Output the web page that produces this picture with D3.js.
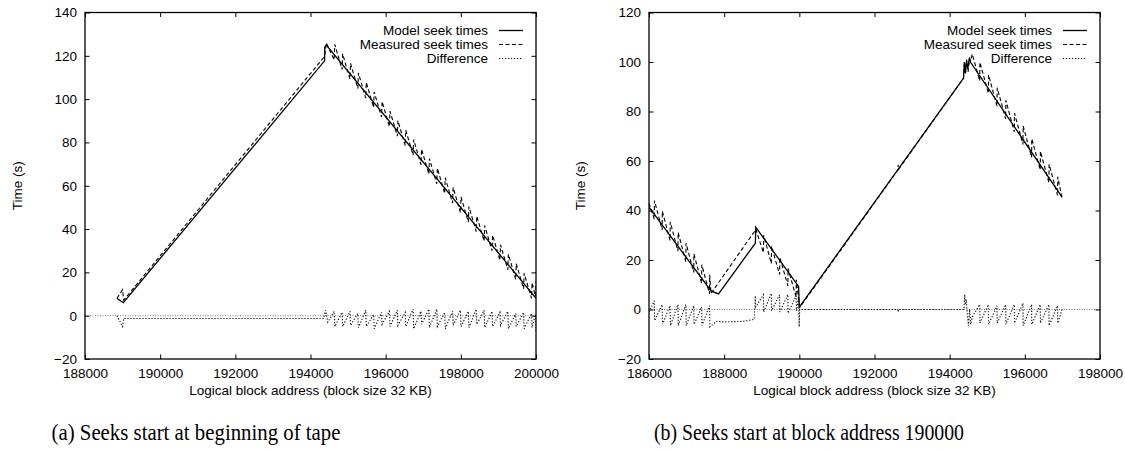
<!DOCTYPE html>
<html>
<head>
<meta charset="utf-8">
<script src="https://cdn.jsdelivr.net/npm/d3@7"></script>
<style>
  body { margin: 0; background: #fff; }
  svg { display: block; }
  .axis text { font-family: "Liberation Sans", Arial, sans-serif; font-size: 13.5px; fill: #000; }
  .axis line { stroke: #000; stroke-width: 1; }
  .label { font-family: "Liberation Sans", Arial, sans-serif; font-size: 13.5px; fill: #000; }
  .caption { font-family: "Liberation Serif", serif; font-size: 23px; fill: #000; }
</style>
</head>
<body>
<svg id="chart" width="1125" height="450"></svg>
<script>
// series names used in both legends
var seriesNames = ['Model seek times', 'Measured seek times', 'Difference'];
var xTitle = 'Logical block address (block size 32 KB)';
var yTitle = 'Time (s)';
var captions = ['(a) Seeks start at beginning of tape', '(b) Seeks start at block address 190000'];

// panel (a): seeks start at beginning of tape
var leftXTicks = [188000, 190000, 192000, 194000, 196000, 198000, 200000];
var leftYTicks = [-20, 0, 20, 40, 60, 80, 100, 120, 140];
var leftModel = [[188850, 8], [189020, 6], [194375, 117.7], [194380, 124], [194420, 125], [200000, 8]];
var leftMeasured = [
  [188850, 8], [189000, 12], [189030, 7.2], [194360, 119.4], [194385, 121], [194420, 126],
  [194630, 118.1], [194645, 125.3], [194840, 113.7], [194855, 120.9], [195050, 109.3], [195065, 116.5],
  [195260, 104.9], [195275, 112.1], [195470, 100.5], [195485, 107.7], [195680, 96.1], [195695, 103.3],
  [195890, 91.7], [195905, 98.9], [196100, 87.3], [196115, 94.5], [196310, 82.9], [196325, 90.1],
  [196520, 78.5], [196535, 85.7], [196730, 74.1], [196745, 81.3], [196940, 69.7], [196955, 76.9],
  [197150, 65.3], [197165, 72.5], [197360, 60.9], [197375, 68.1], [197570, 56.5], [197585, 63.7],
  [197780, 52.0], [197795, 59.2], [197990, 47.6], [198005, 54.8], [198200, 43.2], [198215, 50.4],
  [198410, 38.8], [198425, 46.0], [198620, 34.4], [198635, 41.6], [198830, 30.0], [198845, 37.2],
  [199040, 25.6], [199055, 32.8], [199250, 21.2], [199265, 28.4], [199460, 16.8], [199475, 24.0],
  [199670, 12.4], [199685, 19.6], [199880, 8.0], [199895, 15.2], [199985, 9.0], [200000, 16]
];
var leftDiff = [
  [188850, 0], [189000, -5], [189030, -1.3], [194350, -1.3], [194400, 2.5], [194460, -3],
  [194630, 2], [194650, -5], [194840, 1.5], [194855, -5], [195050, 2], [195065, -4.5],
  [195260, 1], [195275, -5.5], [195470, 2.5], [195485, -5], [195680, 0.5], [195695, -6],
  [195890, 1.5], [195905, -4], [196100, 2], [196115, -5], [196310, 2.5], [196325, -4.5],
  [196520, 1.5], [196535, -5], [196730, 3], [196745, -6], [196940, 2], [196955, -4],
  [197150, 3], [197165, -5.5], [197360, 3], [197375, -5], [197570, 1.5], [197585, -6],
  [197780, 2], [197795, -4.5], [197990, 2.5], [198005, -5], [198200, 2], [198215, -5.5],
  [198410, 3], [198425, -4], [198620, 2.5], [198635, -5.5], [198830, 2], [198845, -5],
  [199040, 1.5], [199055, -4.5], [199250, 2], [199265, -6], [199460, 1], [199475, -5],
  [199670, 1.5], [199685, -6], [199880, 1], [199895, -5.5], [199985, 0.5], [200000, -8]
];

// panel (b): seeks start at block address 190000
var rightXTicks = [186000, 188000, 190000, 192000, 194000, 196000, 198000];
var rightYTicks = [-20, 0, 20, 40, 60, 80, 100, 120];
var rightModel = [
  [186000, 41.4], [187650, 7.5], [187850, 6.3], [188830, 26.8], [188840, 33.3], [189980, 9.3],
  [190000, 1.0], [194370, 93.5], [194390, 100], [194420, 96], [194450, 100.5], [194480, 97],
  [194520, 101.5], [194560, 99.8], [196990, 45.4]
];
var rightMeasured = [
  [186000, 43], [186140, 36.5], [186145, 44.0], [186350, 32.2], [186355, 39.7], [186560, 27.9],
  [186565, 35.4], [186770, 23.6], [186775, 31.1], [186980, 19.3], [186985, 26.8], [187190, 15.0],
  [187195, 22.5], [187400, 10.6], [187405, 18.1], [187610, 6.3], [187615, 14.0], [187650, 6.5],
  [188800, 31.4], [188840, 32.5], [189045, 23.0], [189050, 30.0], [189255, 18.6], [189260, 25.6],
  [189475, 14.1], [189480, 21.1], [189695, 9.6], [189700, 16.6], [189915, 5.0], [189920, 12.0],
  [189985, 3.5], [190020, 1.0], [192620, 56.3], [192630, 58.5], [192640, 56.6], [194370, 93.5],
  [194390, 99], [194420, 95], [194450, 101], [194490, 96], [194530, 101.5], [194560, 100.5],
  [194600, 103.2], [194800, 92.4], [194805, 99.9], [195030, 87.3], [195035, 94.8], [195260, 82.1],
  [195265, 89.6], [195490, 77.0], [195495, 84.5], [195720, 71.8], [195725, 79.3], [195950, 66.7],
  [195955, 74.2], [196180, 61.5], [196185, 69.0], [196410, 56.4], [196415, 63.9], [196640, 51.2],
  [196645, 58.7], [196870, 46.1], [196875, 53.6], [196990, 45.0]
];
var rightDiff = [
  [186000, -1], [186140, 3.5], [186150, -4.5], [186350, 2], [186360, -6], [186560, 1.5],
  [186570, -6.5], [186770, 2], [186780, -6.5], [186980, 2], [186990, -6.5], [187190, 1.5],
  [187200, -6], [187400, 1], [187410, -6.5], [187610, 1.5], [187620, -7], [187800, -4.8],
  [188000, -5], [188500, -4.8], [188800, -4], [188830, 5.5], [188840, 1], [189045, 6],
  [189050, -1], [189255, 6.5], [189260, -0.5], [189475, 6], [189480, -1], [189695, 6],
  [189700, -1.5], [189915, 5.5], [189925, -0.5], [189980, 5], [189995, -7], [190010, 0],
  [192620, 0], [192630, -1], [192640, 0], [194380, 0], [194400, 6], [194420, 2], [194440, 4],
  [194470, -2], [194500, -6.5], [194530, 0], [194560, -6], [194600, -3], [194800, 2],
  [194805, -5.5], [195030, 2], [195035, -6], [195260, 1.5], [195265, -5.5], [195490, 2],
  [195495, -6], [195720, 2], [195725, -5.5], [195950, 2.5], [195955, -6.5], [196180, 2],
  [196185, -6], [196410, 2], [196415, -5.5], [196640, 2], [196645, -6.5], [196870, 1.5],
  [196875, -5.5], [196990, 0]
];

var svg = d3.select('#chart');

// line styles of the three curves (gnuplot style)
var styles = [
  { dash: null, width: 1.3 },
  { dash: '4,2.5', width: 1.1 },
  { dash: '1.2,1.8', width: 1.1 }
];

function drawPanel(p) {
  var x = d3.scaleLinear().domain(p.xDomain).range([p.left, p.right]);
  var y = d3.scaleLinear().domain(p.yDomain).range([p.bottom, p.top]);
  var tick = 4.5;

  //clip curves to the frame
  svg.append('clipPath').attr('id', p.id + '-clip')
    .append('rect')
    .attr('x', p.left).attr('y', p.top)
    .attr('width', p.right - p.left).attr('height', p.bottom - p.top);

  var plot = svg.append('g').attr('clip-path', 'url(#' + p.id + '-clip)');

  // zero axis
  plot.append('line')
    .attr('x1', p.left).attr('x2', p.right)
    .attr('y1', y(0)).attr('y2', y(0))
    .attr('stroke', '#777').attr('stroke-width', 1)
    .attr('stroke-dasharray', '1,1.5');

  var line = d3.line().x(function(d) { return x(d[0]); }).y(function(d) { return y(d[1]); });

  // draw difference first, model last
  [2, 1, 0].forEach(function(i) {
    plot.append('path')
      .datum(p.series[i])
      .attr('fill', 'none')
      .attr('stroke', '#000')
      .attr('stroke-width', styles[i].width)
      .attr('stroke-dasharray', styles[i].dash)
      .attr('stroke-linejoin', 'miter')
      .attr('d', line);
  });

  // axes, ticks pointing inwards on all four sides
  var fmt = d3.format('d');
  svg.append('g').attr('class', 'axis')
    .attr('transform', 'translate(0,' + p.bottom + ')')
    .call(d3.axisBottom(x).tickValues(p.xTicks).tickFormat(fmt).tickSizeInner(-tick).tickSizeOuter(0).tickPadding(9));
  svg.append('g').attr('class', 'axis')
    .attr('transform', 'translate(0,' + p.top + ')')
    .call(d3.axisTop(x).tickValues(p.xTicks).tickFormat('').tickSizeInner(-tick).tickSizeOuter(0));
  svg.append('g').attr('class', 'axis')
    .attr('transform', 'translate(' + p.left + ',0)')
    .call(d3.axisLeft(y).tickValues(p.yTicks).tickFormat(fmt).tickSizeInner(-tick).tickSizeOuter(0).tickPadding(8));
  svg.append('g').attr('class', 'axis')
    .attr('transform', 'translate(' + p.right + ',0)')
    .call(d3.axisRight(y).tickValues(p.yTicks).tickFormat('').tickSizeInner(-tick).tickSizeOuter(0));
  svg.selectAll('.axis .domain').remove();

  // frame
  svg.append('rect')
    .attr('x', p.left).attr('y', p.top)
    .attr('width', p.right - p.left).attr('height', p.bottom - p.top)
    .attr('fill', 'none').attr('stroke', '#000').attr('stroke-width', 1.3);

  // legend
  seriesNames.forEach(function(name, i) {
    var ly = p.top + 18 + i * 14;
    svg.append('text').attr('class', 'label')
      .attr('x', p.right - 48).attr('y', ly).attr('dy', '0.35em')
      .attr('text-anchor', 'end').text(name);
    svg.append('line')
      .attr('x1', p.right - 37).attr('x2', p.right - 13)
      .attr('y1', ly).attr('y2', ly)
      .attr('stroke', '#000').attr('stroke-width', styles[i].width)
      .attr('stroke-dasharray', styles[i].dash);
  });

  // axis titles
  svg.append('text').attr('class', 'label')
    .attr('x', (p.left + p.right) / 2).attr('y', 395)
    .attr('text-anchor', 'middle').text(xTitle);
  svg.append('text').attr('class', 'label')
    .attr('transform', 'translate(' + p.yTitleX + ',' + ((p.top + p.bottom) / 2) + ') rotate(-90)')
    .attr('text-anchor', 'middle').attr('dy', '0.35em').text(yTitle);

  // caption, squeezed like the condensed original
  svg.append('text').attr('class', 'caption')
    .attr('x', p.captionX).attr('y', 440)
    .attr('text-anchor', 'middle')
    .attr('textLength', p.captionWidth).attr('lengthAdjust', 'spacingAndGlyphs')
    .text(p.caption);
}

drawPanel({
  id: 'a', left: 85, right: 536, top: 12.5, bottom: 359,
  xDomain: [188000, 200000], yDomain: [-20, 140],
  xTicks: leftXTicks, yTicks: leftYTicks,
  series: [leftModel, leftMeasured, leftDiff],
  yTitleX: 17, captionX: 196, captionWidth: 289, caption: captions[0]
});

drawPanel({
  id: 'b', left: 649, right: 1100, top: 12.5, bottom: 359,
  xDomain: [186000, 198000], yDomain: [-20, 120],
  xTicks: rightXTicks, yTicks: rightYTicks,
  series: [rightModel, rightMeasured, rightDiff],
  yTitleX: 580, captionX: 809, captionWidth: 310, caption: captions[1]
});
</script>
</body>
</html>
